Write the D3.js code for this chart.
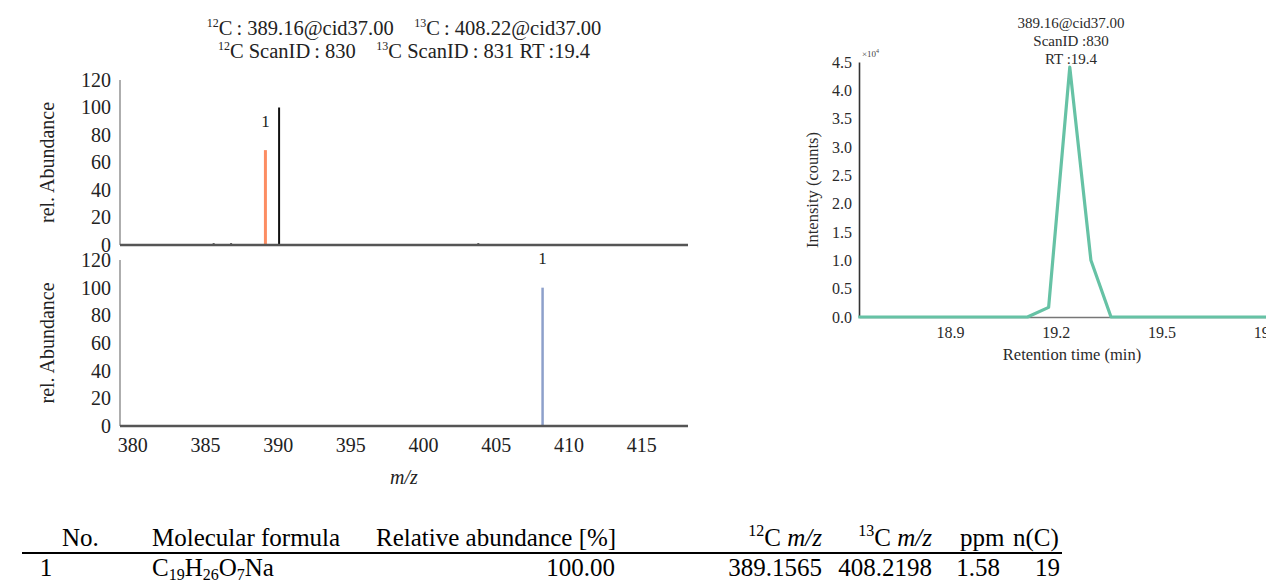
<!DOCTYPE html>
<html>
<head>
<meta charset="utf-8">
<script src="https://cdn.jsdelivr.net/npm/d3@7"></script>
<style>
  body { margin: 0; background: #fff; }
  svg text { font-family: "Liberation Serif", "DejaVu Serif", serif; }
</style>
</head>
<body>
<svg id="fig" width="1266" height="585"></svg>
<script>
// ---- data ----
// full 12C spectrum (black sticks)
let specMz = [385.6, 386.8, 390.1, 403.8];
let specAbund = [1.2, 1.2, 100, 1.2];
// picked light (12C) and heavy (13C) peaks
let lightMz = [389.16];
let lightAbund = [69];
let heavyMz = [408.22];
let heavyAbund = [100];
let peakLabels = ['1'];
let abundTicks = [0, 20, 40, 60, 80, 100, 120];
let mzTicks = [380, 385, 390, 395, 400, 405, 410, 415];
let mzDomain = [379.16, 418.22];

// extracted ion chromatogram
let rtValues = [18.64, 19.12, 19.18, 19.24, 19.30, 19.357, 19.9];
let intensityValues = [0, 0, 1700, 44100, 10000, 0, 0];
let intensityTicks = [0, 5000, 10000, 15000, 20000, 25000, 30000, 35000, 40000, 45000];
let rtTicks = [18.9, 19.2, 19.5, 19.8];

// table
let tableNo = ['1'];
let tableFormula = [[['C', ''], ['19', 'sub'], ['H', ''], ['26', 'sub'], ['O', ''], ['7', 'sub'], ['Na', '']]];
let tableRelAbund = ['100.00'];
let tableLightMz = ['389.1565'];
let tableHeavyMz = ['408.2198'];
let tablePpm = ['1.58'];
let tableNC = ['19'];

let svg = d3.select('#fig');

// write a text made of pieces; 'sup' / 'sub' pieces are shifted and smaller
function rich(t, parts, big, small, up, down) {
  let shift = 0;
  parts.forEach(function (p) {
    let want = p[1] === 'sup' ? -up : (p[1] === 'sub' ? down : 0);
    let ts = t.append('tspan').attr('dy', want - shift).text(p[0]);
    ts.style('font-size', (p[1] === '' ? big : small) + 'px');
    if (p[2]) ts.style('font-style', p[2]);
    shift = want;
  });
}

// ---------- left: mirrored spectra ----------
let x = d3.scaleLinear().domain(mzDomain).range([120, 688]);
let yTop = d3.scaleLinear().domain([0, 120]).range([245, 80]);
let yBot = d3.scaleLinear().domain([0, 120]).range([426, 260]);

let t1 = svg.append('text').attr('x', 404).attr('y', 35).attr('text-anchor', 'middle').attr('fill', '#222');
rich(t1, [['12', 'sup'], ['C\u2009: 389.16@cid37.00\u2003', ''], ['13', 'sup'], ['C\u2009: 408.22@cid37.00', '']], 20.5, 12, 8, 0);
let t2 = svg.append('text').attr('x', 404).attr('y', 58).attr('text-anchor', 'middle').attr('fill', '#222');
rich(t2, [['12', 'sup'], ['C ScanID\u2009: 830\u2003', ''], ['13', 'sup'], ['C ScanID\u2009: 831 RT\u2009:19.4', '']], 20.5, 12, 8, 0);

function panel(yScale, label) {
  let g = svg.append('g');
  g.append('line').attr('x1', x.range()[0]).attr('x2', x.range()[0])
    .attr('y1', yScale(120)).attr('y2', yScale(0))
    .attr('stroke', '#777').attr('stroke-width', 1.2);
  let ax = d3.axisLeft(yScale).tickValues(abundTicks).tickSize(0).tickPadding(9);
  let ga = g.append('g').attr('transform', 'translate(' + x.range()[0] + ',0)').call(ax);
  ga.select('.domain').remove();
  ga.selectAll('text').style('font-size', '20px').style('font-family', '"Liberation Serif", serif').attr('fill', '#222');
  g.append('text')
    .attr('transform', 'translate(54,' + (yScale(60)) + ') rotate(-90)')
    .attr('text-anchor', 'middle').style('font-size', '20px').attr('fill', '#222')
    .text(label);
  return g;
}
let gTop = panel(yTop, 'rel. Abundance');
let gBot = panel(yBot, 'rel. Abundance');

gTop.selectAll('line.spec').data(specMz).enter().append('line')
  .attr('class', 'spec')
  .attr('x1', function (d) { return x(d); }).attr('x2', function (d) { return x(d); })
  .attr('y1', yTop(0)).attr('y2', function (d, i) { return yTop(specAbund[i]); })
  .attr('stroke', '#111').attr('stroke-width', 2);
gTop.selectAll('line.light').data(lightMz).enter().append('line')
  .attr('class', 'light')
  .attr('x1', function (d) { return x(d); }).attr('x2', function (d) { return x(d); })
  .attr('y1', yTop(0)).attr('y2', function (d, i) { return yTop(lightAbund[i]); })
  .attr('stroke', '#fc8d62').attr('stroke-width', 3);
gTop.selectAll('text.lab').data(lightMz).enter().append('text')
  .attr('class', 'lab')
  .attr('x', function (d) { return x(d); })
  .attr('y', function (d, i) { return yTop(lightAbund[i] + 17); })
  .attr('text-anchor', 'middle').style('font-size', '17px').attr('fill', '#222')
  .text(function (d, i) { return peakLabels[i]; });
gBot.selectAll('line.heavy').data(heavyMz).enter().append('line')
  .attr('class', 'heavy')
  .attr('x1', function (d) { return x(d); }).attr('x2', function (d) { return x(d); })
  .attr('y1', yBot(0)).attr('y2', function (d, i) { return yBot(heavyAbund[i]); })
  .attr('stroke', '#8da0cb').attr('stroke-width', 2.5);
gBot.selectAll('text.lab').data(heavyMz).enter().append('text')
  .attr('class', 'lab')
  .attr('x', function (d) { return x(d); })
  .attr('y', function (d, i) { return yBot(heavyAbund[i] + 17); })
  .attr('text-anchor', 'middle').style('font-size', '17px').attr('fill', '#222')
  .text(function (d, i) { return peakLabels[i]; });

[yTop, yBot].forEach(function (ys) {
  svg.append('line').attr('x1', x.range()[0]).attr('x2', x.range()[1])
    .attr('y1', ys(0)).attr('y2', ys(0))
    .attr('stroke', '#555').attr('stroke-width', 2.5);
});
let xAx = d3.axisBottom(x).tickValues(mzTicks).tickSize(0).tickPadding(12);
let gx = svg.append('g').attr('transform', 'translate(0,' + yBot(0) + ')').call(xAx);
gx.select('.domain').remove();
gx.selectAll('text').style('font-size', '20px').style('font-family', '"Liberation Serif", serif').attr('fill', '#222');
svg.append('text').attr('x', 404).attr('y', 484).attr('text-anchor', 'middle')
  .style('font-size', '20px').style('font-style', 'italic').attr('fill', '#222').text('m/z');

// ---------- right: chromatogram ----------
let xr = d3.scaleLinear().domain([18.642, 19.9]).range([859, 1302.4]);
let yr = d3.scaleLinear().domain([0, 45000]).range([317, 62]);
let gr = svg.append('g');
let yrAx = d3.axisLeft(yr).tickValues(intensityTicks).tickSize(0).tickPadding(7)
  .tickFormat(function (d) { return (d / 10000).toFixed(1); });
let gy = gr.append('g').attr('transform', 'translate(859,0)').call(yrAx);
gy.select('.domain').attr('stroke', '#333').attr('stroke-width', 1.6);
gy.selectAll('text').style('font-size', '16px').style('font-family', '"Liberation Serif", serif').attr('fill', '#2a2a2a');
let xrAx = d3.axisBottom(xr).tickValues(rtTicks).tickSize(0).tickPadding(10)
  .tickFormat(d3.format('.1f'));
let gxr = gr.append('g').attr('transform', 'translate(0,317)').call(xrAx);
gxr.select('.domain').attr('stroke', '#777').attr('stroke-width', 1.6);
gxr.selectAll('text').style('font-size', '16px').style('font-family', '"Liberation Serif", serif').attr('fill', '#2a2a2a');

gr.append('path')
  .datum(rtValues.map(function (d, i) { return [d, intensityValues[i]]; }))
  .attr('d', d3.line().x(function (d) { return xr(d[0]); }).y(function (d) { return yr(d[1]); }))
  .attr('fill', 'none').attr('stroke', '#66c2a5').attr('stroke-width', 3.2)
  .attr('stroke-linejoin', 'round');

let tx = gr.append('text').attr('x', 862).attr('y', 57).attr('fill', '#444');
rich(tx, [['\u00d710', ''], ['4', 'sup']], 9, 6, 4, 0);

['389.16@cid37.00', 'ScanID :830', 'RT :19.4'].forEach(function (s, i) {
  gr.append('text').attr('x', 1071).attr('y', 28 + i * 18).attr('text-anchor', 'middle')
    .style('font-size', '15px').attr('fill', '#2a2a2a').text(s);
});
gr.append('text').attr('transform', 'translate(818,190) rotate(-90)').attr('text-anchor', 'middle')
  .style('font-size', '16.5px').attr('fill', '#2a2a2a').text('Intensity (counts)');
gr.append('text').attr('x', 1072).attr('y', 360).attr('text-anchor', 'middle')
  .style('font-size', '16.5px').attr('fill', '#2a2a2a').text('Retention time (min)');

// ---------- table ----------
let gt = svg.append('g').style('font-size', '25px').attr('fill', '#000');
let headY = 546, rowY = 576;
gt.append('text').attr('x', 62).attr('y', headY).text('No.');
gt.append('text').attr('x', 152).attr('y', headY).text('Molecular formula');
gt.append('text').attr('x', 376).attr('y', headY).text('Relative abundance [%]');
function isoHead(xEnd, iso) {
  let t = gt.append('text').attr('x', xEnd).attr('y', headY).attr('text-anchor', 'end');
  rich(t, [[iso, 'sup'], ['C ', ''], ['m/z', '', 'italic']], 25, 16, 10, 0);
}
isoHead(822, '12');
isoHead(932, '13');
gt.append('text').attr('x', 960).attr('y', headY).text('ppm');
gt.append('text').attr('x', 1013).attr('y', headY).text('n(C)');
gt.append('line').attr('x1', 22).attr('x2', 1062).attr('y1', 553).attr('y2', 553)
  .attr('stroke', '#000').attr('stroke-width', 2);

tableNo.forEach(function (d, i) {
  let y = rowY + i * 30;
  gt.append('text').attr('x', 46).attr('y', y).attr('text-anchor', 'middle').text(d);
  let f = gt.append('text').attr('x', 152).attr('y', y);
  rich(f, tableFormula[i], 25, 16, 0, 4);
  gt.append('text').attr('x', 615).attr('y', y).attr('text-anchor', 'end').text(tableRelAbund[i]);
  gt.append('text').attr('x', 822).attr('y', y).attr('text-anchor', 'end').text(tableLightMz[i]);
  gt.append('text').attr('x', 932).attr('y', y).attr('text-anchor', 'end').text(tableHeavyMz[i]);
  gt.append('text').attr('x', 1000).attr('y', y).attr('text-anchor', 'end').text(tablePpm[i]);
  gt.append('text').attr('x', 1060).attr('y', y).attr('text-anchor', 'end').text(tableNC[i]);
});
</script>
</body>
</html>
